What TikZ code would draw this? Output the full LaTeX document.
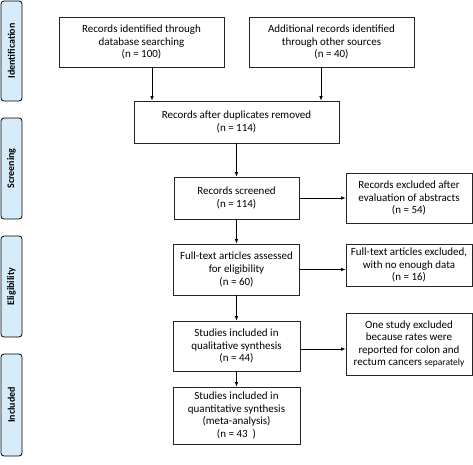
\documentclass[tikz,border=0pt]{standalone}
\usepackage{fontspec}
\setmainfont{Carlito}
\usetikzlibrary{arrows.meta}
\definecolor{sidefill}{RGB}{214,236,251}
\tikzset{
  box/.style={draw=black!85, line width=0.8pt, align=center, inner sep=0pt,
    font=\fontsize{11}{12.6}\selectfont},
  side/.style={draw=black, line width=0.8pt, fill=sidefill, rounded corners=3pt,
    inner sep=0pt, minimum width=21pt},
  sidetext/.style={rotate=90, font=\bfseries\fontsize{10}{11}\selectfont},
  arr/.style={-{Latex[length=4.5pt,width=3.6pt]}, line width=0.8pt, black}
}
\begin{document}
\begin{tikzpicture}[x=1pt,y=-1pt]
\useasboundingbox (0,0) rectangle (473,464);
% side labels
\node[side, minimum height=100pt] (sI) at (11.5,51) {};
\node[sidetext] (tI) at (sI.center) {Identification};
\node[side, minimum height=101pt] (sS) at (11.5,168.5) {};
\node[sidetext] (tS) at (sS.center) {Screening};
\node[side, minimum height=101pt] (sE) at (11.5,286.5) {};
\node[sidetext] (tE) at (sE.center) {Eligibility};
\node[side, minimum height=102pt] (sN) at (11.5,405) {};
\node[sidetext] (tN) at (sN.center) {Included};
% boxes
\node[box, minimum width=165pt, minimum height=50pt] (A) at (141.5,42)
  {Records identified through\\database searching\\(n = 100)};
\node[box, minimum width=165pt, minimum height=50pt] (B) at (331.5,42)
  {Additional records identified\\through other sources\\(n = 40)};
\node[box, minimum width=205pt, minimum height=42pt] (C) at (236.5,122)
  {Records after duplicates removed\\(n = 114)};
\node[box, minimum width=125pt, minimum height=42pt] (D) at (236.5,198)
  {Records screened\\(n = 114)};
\node[box, minimum width=126pt, minimum height=50pt] (E) at (409,198)
  {Records excluded after\\evaluation of abstracts\\(n = 54)};
\node[box, minimum width=126pt, minimum height=51pt] (F) at (236.5,269.5)
  {Full-text articles assessed\\for eligibility\\(n = 60)};
\node[box, minimum width=126pt, minimum height=42pt] (G) at (409,265)
  {Full-text articles excluded,\\with no enough data\\(n = 16)};
\node[box, minimum width=127pt, minimum height=50pt] (H) at (236.5,346)
  {Studies included in\\qualitative synthesis\\(n = 44)};
\node[box, minimum width=126pt, minimum height=62pt] (I) at (409,344)
  {One study excluded\\because rates were\\reported for colon and\\rectum cancers {\fontsize{9.5}{12.6}\selectfont separately}};
\node[box, minimum width=127pt, minimum height=57pt] (J) at (236.5,415.5)
  {Studies included in\\quantitative synthesis\\(meta-analysis)\\(n = 43~~)};
% connectors
\draw[arr] ([xshift=10.5pt]A.south) -- ([xshift=10.5pt]A.south |- C.north);
\draw[arr] ([xshift=-10.5pt]B.south) -- ([xshift=-10.5pt]B.south |- C.north);
\draw[arr] (C.south) -- (D.north);
\draw[arr] (D.east) -- (D.east -| E.west);
\draw[arr] (D.south) -- (F.north);
\draw[arr] (F.east) -- (F.east -| G.west);
\draw[arr] (F.south) -- (H.north);
\draw[arr] ([yshift=-3pt]H.east) -- ([yshift=-3pt]H.east -| I.west);
\draw[arr] (H.south) -- (J.north);
\end{tikzpicture}
\end{document}
